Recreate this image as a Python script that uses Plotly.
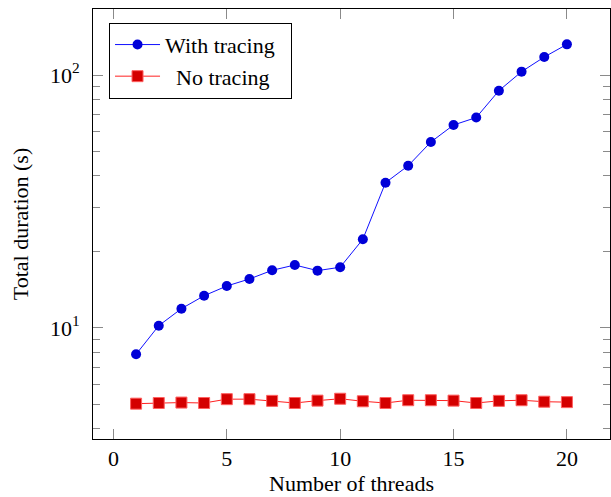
import plotly.graph_objects as go

threads = list(range(1, 21))
with_tracing = [7.87, 10.21, 11.92, 13.41, 14.65, 15.62, 16.90, 17.74, 16.85, 17.38,
                22.42, 37.52, 43.80, 54.35, 63.44, 67.9, 86.7, 103.1, 117.8, 132.2]
no_tracing = [5.02, 5.05, 5.07, 5.05, 5.23, 5.23, 5.15, 5.05, 5.16, 5.25,
              5.13, 5.05, 5.18, 5.18, 5.16, 5.05, 5.15, 5.18, 5.11, 5.09]

x_ticks = [0, 5, 10, 15, 20]
y_ticks = [10, 100]
y_ticktext = ["10<sup>1</sup>", "10<sup>2</sup>"]
y_minor = [4, 5, 6, 7, 8, 9, 20, 30, 40, 50, 60, 70, 80, 90]

FONT = "Liberation Serif"
FS = 22
TICKC = "#8a8a8a"

fig = go.Figure()
fig.add_trace(go.Scatter(
    x=threads, y=with_tracing, mode="lines+markers", name="With tracing&nbsp;&nbsp;",
    line=dict(color="#1010ff", width=1),
    marker=dict(symbol="circle", size=10, color="#0000d8",
                line=dict(color="#0000d8", width=0)),
))
fig.add_trace(go.Scatter(
    x=threads, y=no_tracing, mode="lines+markers", name="&nbsp;&nbsp;No tracing",
    line=dict(color="#ff2020", width=1),
    marker=dict(symbol="square", size=11, color="#d40000",
                line=dict(color="#ff6060", width=1)),
))

fig.update_layout(
    width=611, height=497,
    margin=dict(l=93, r=1, t=9, b=58),
    paper_bgcolor="white", plot_bgcolor="white",
    font=dict(family=FONT, size=FS, color="black"),
    showlegend=True,
    legend=dict(
        x=0.031, y=0.968, xanchor="left", yanchor="top",
        bgcolor="white", bordercolor="black", borderwidth=1,
        font=dict(family=FONT, size=FS, color="black"),
        itemwidth=45, tracegroupgap=0,
    ),
    xaxis=dict(
        range=[-0.9, 21.9], tickvals=x_ticks,
        showgrid=False, zeroline=False,
        showline=True, linecolor="black", linewidth=1, mirror="allticks",
        ticks="inside", ticklen=10, tickcolor=TICKC, tickwidth=1,
        tickfont=dict(family=FONT, size=FS),
        title=dict(text="Number of threads", font=dict(family=FONT, size=FS), standoff=4),
    ),
    yaxis=dict(
        type="log", range=[0.561, 2.261],
        tickvals=y_ticks, ticktext=y_ticktext,
        showgrid=False, zeroline=False,
        showline=True, linecolor="black", linewidth=1, mirror="allticks",
        ticks="inside", ticklen=10, tickcolor=TICKC, tickwidth=1,
        ticklabelstandoff=8,
        tickfont=dict(family=FONT, size=FS),
        minor=dict(tickmode="array", tickvals=y_minor, ticks="inside",
                   ticklen=7, tickcolor=TICKC, tickwidth=1, showgrid=False),
        title=dict(text="Total duration (s)", font=dict(family=FONT, size=FS), standoff=15),
    ),
)

fig.write_html("out.html")
